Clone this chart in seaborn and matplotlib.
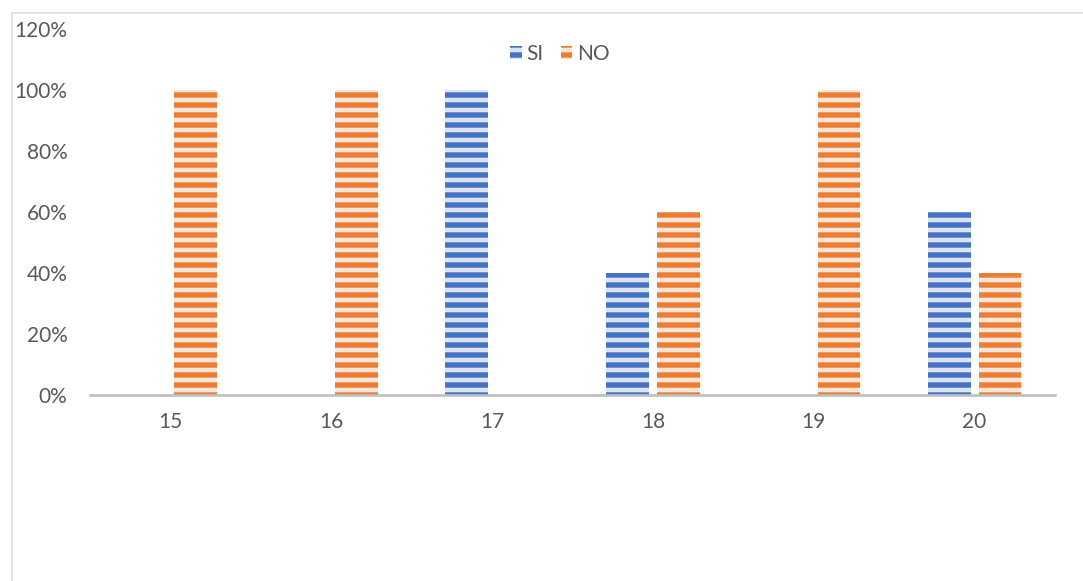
import pandas as pd
import numpy as np
import matplotlib.pyplot as plt
import seaborn as sns
from matplotlib.patches import Patch
from matplotlib.lines import Line2D
from matplotlib.ticker import PercentFormatter

# --- DATA ---
categories = ['15', '16', '17', '18', '19', '20']
si_values = [0, 0, 100, 40, 0, 60]
no_values = [100, 100, 0, 60, 100, 40]
series_names = ['SI', 'NO']

# --- STYLE ---
DARK = {'SI': '#4472C4', 'NO': '#ED7D31'}
LIGHT = {'SI': '#DAE3F3', 'NO': '#FBE5D6'}
TEXT_COLOR = '#595959'
DPI = 60
FS = 25

sns.set_style('white')
plt.rcParams['font.family'] = ['Lato', 'DejaVu Sans']
plt.rcParams['hatch.linewidth'] = 6.5

df = pd.DataFrame({
    'Edad': categories * 2,
    'Valor': si_values + no_values,
    'Serie': ['SI'] * len(categories) + ['NO'] * len(categories),
})

fig = plt.figure(figsize=(1083 / DPI, 581 / DPI), dpi=DPI)
ax = fig.add_axes([90 / 1083, 1 - 395 / 581, 965 / 1083, (395 - 29) / 581])

sns.barplot(data=df, x='Edad', y='Valor', hue='Serie', order=categories,
            hue_order=series_names, palette=LIGHT, width=0.63, gap=0.16,
            ax=ax, legend=False)

# stripes like the Excel "wide horizontal" pattern
for container, name in zip(ax.containers, series_names):
    for bar in container:
        bar.set_hatch('-')
        bar.set_edgecolor(DARK[name])
        bar.set_linewidth(0)

ax.set_ylim(0, 120)
ax.set_xlim(-0.5, 5.5)
ax.set_yticks(np.arange(0, 121, 20))
ax.yaxis.set_major_formatter(PercentFormatter(decimals=0))
ax.set_xlabel('')
ax.set_ylabel('')
ax.tick_params(axis='both', length=0, labelsize=FS, colors=TEXT_COLOR)
ax.tick_params(axis='y', pad=27)
ax.tick_params(axis='x', pad=20)
for side in ['top', 'right', 'left']:
    ax.spines[side].set_visible(False)
ax.spines['bottom'].set_color('#BFBFBF')
ax.spines['bottom'].set_linewidth(3.2)
ax.grid(False)

handles = [Patch(facecolor=LIGHT[n], edgecolor=DARK[n], hatch='-', linewidth=0, label=n)
           for n in series_names]
ax.legend(handles=handles, loc='upper center', bbox_to_anchor=(0.487, 1.01), ncol=2,
          frameon=False, fontsize=FS, labelcolor=TEXT_COLOR, handlelength=0.55,
          handleheight=0.55, handletextpad=0.25, columnspacing=0.8)

# chart area border (cut at the right and bottom)
fig.add_artist(Line2D([12 / 1083, 12 / 1083], [0, 1 - 13 / 581],
                      transform=fig.transFigure, color='#D9D9D9', lw=1.8))
fig.add_artist(Line2D([12 / 1083, 1], [1 - 13 / 581, 1 - 13 / 581],
                      transform=fig.transFigure, color='#D9D9D9', lw=1.8))

fig.savefig('out.png', dpi=DPI)
